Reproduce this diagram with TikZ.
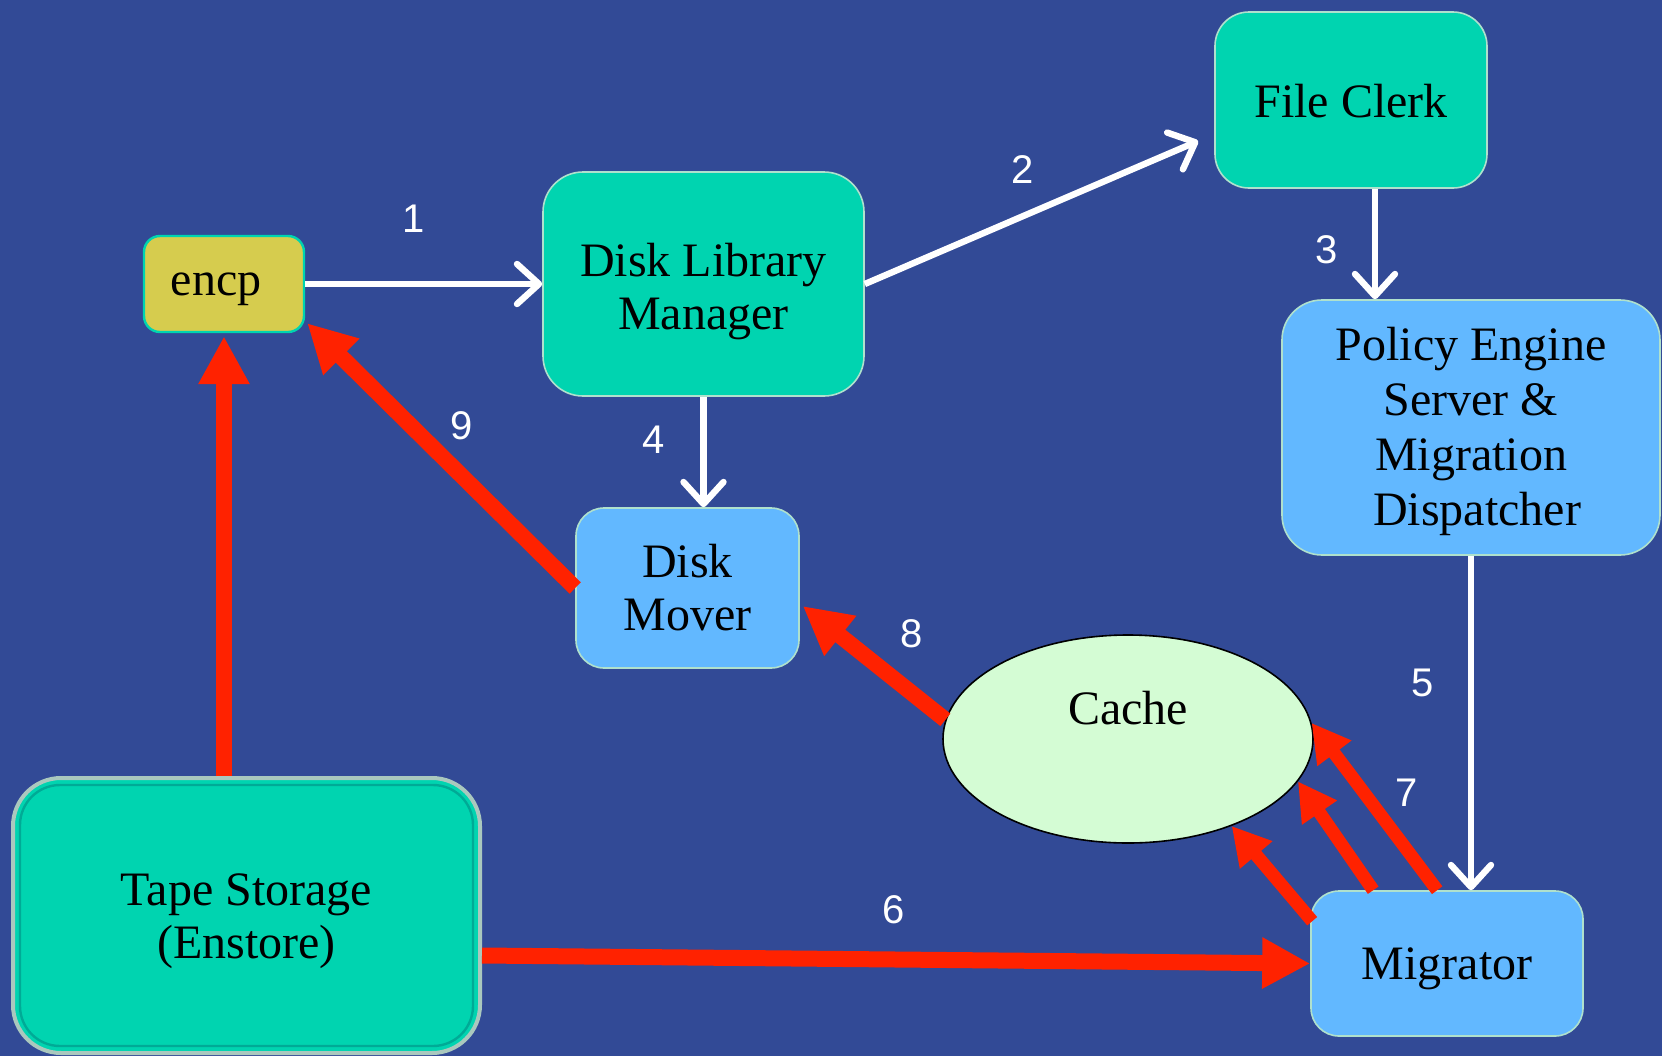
\documentclass[tikz,border=0pt]{standalone}
\usepackage{fontspec}
\setmainfont{Liberation Serif}
\newfontfamily\numfont{Liberation Sans}
\usetikzlibrary{arrows.meta,calc,shapes.geometric}
\definecolor{bgblue}{RGB}{50,74,150}
\definecolor{tealfill}{RGB}{0,212,176}
\definecolor{lbluefill}{RGB}{98,184,255}
\definecolor{cachefill}{RGB}{212,252,212}
\definecolor{encpfill}{RGB}{214,204,78}
\definecolor{redarr}{RGB}{255,34,0}
\definecolor{edgec}{RGB}{175,225,205}
\definecolor{tapeedge}{RGB}{170,200,190}
\definecolor{tapeinner}{RGB}{0,170,150}
\newcommand{\lowtxt}[2]{\raisebox{-#1}[\height][\depth]{#2}}
\begin{document}
\begin{tikzpicture}[x=0.5pt,y=-0.5pt,
  procbox/.style={rectangle,draw=edgec,line width=0.8pt,align=center,
    font=\fontsize{24}{26.5}\selectfont,inner sep=0pt},
  greenbox/.style={procbox,fill=tealfill},
  bluebox/.style={procbox,fill=lbluefill},
  warr/.style={white,line width=3.2pt,-{Straight Barb[length=11pt,width=20pt,round]}},
  rarr/.style={redarr,line width=8pt,-{Triangle[length=24pt,width=24pt]}},
  rarrs/.style={redarr,line width=6.5pt,-{Triangle[length=19pt,width=20pt]}},
  num/.style={text=white,font=\numfont\fontsize{20}{24}\selectfont}]
\useasboundingbox (0,0) rectangle (1662,1056);
\fill[bgblue] (0,0) rectangle (1662,1056);

% nodes
\node[greenbox,fill=encpfill,draw=tealfill,line width=1.2pt,rounded corners=8pt,
  minimum width=80pt,minimum height=48pt] (encp) at (224,284) {\lowtxt{2.5pt}{encp}\hspace*{8pt}};
\node[greenbox,rounded corners=20pt,minimum width=160.5pt,minimum height=112pt]
  (dlm) at (703.5,284) {\lowtxt{3.7pt}{Disk Library}\\\lowtxt{3.7pt}{Manager}};
\node[greenbox,rounded corners=17pt,minimum width=136pt,minimum height=88pt]
  (fc) at (1351,100) {\lowtxt{0.5pt}{File Clerk}};
\node[bluebox,rounded corners=20pt,minimum width=189pt,minimum height=127.5pt,
  font=\fontsize{24}{27.5}\selectfont]
  (pol) at (1471,427.5) {\lowtxt{2pt}{Policy Engine}\\\lowtxt{2pt}{Server \&}\\\lowtxt{2pt}{Migration}\\\lowtxt{2pt}{\ Dispatcher}};
\node[bluebox,rounded corners=14pt,minimum width=111.5pt,minimum height=80pt]
  (dm) at (687.5,588) {Disk\\Mover};
\node[bluebox,rounded corners=14pt,minimum width=136pt,minimum height=72.5pt]
  (mig) at (1447,963.5) {\lowtxt{2.5pt}{Migrator}};
\node[ellipse,draw=black,line width=0.8pt,fill=cachefill,inner sep=0pt,
  minimum width=185pt,minimum height=104pt] (cache) at (1128,739) {};
\node[font=\fontsize{24}{26.5}\selectfont] (cachetxt) at (1128,708) {Cache};
\node[greenbox,draw=tapeedge,line width=2pt,rounded corners=24pt,
  minimum width=233.5pt,minimum height=137.5pt] (tape) at (246.5,915.5)
  {\lowtxt{3pt}{Tape Storage}\\\lowtxt{3pt}{(Enstore)}};
\draw[tapeinner,line width=1.2pt,rounded corners=20pt]
  ($(tape.north west)+(9,9)$) rectangle ($(tape.south east)+(-9,-9)$);

% white arrows
\coordinate (fcout) at ($(fc.south)+(24,0)$);
\coordinate (polin) at (fcout |- pol.north);
\draw[warr] (encp.east) -- (dlm.west);
\draw[warr] (dlm.east) -- ($(fc.west)+(-16,41)$);
\draw[warr] (fcout) -- (polin);
\draw[warr] (dlm.south) -- (dlm.south |- dm.north);
\draw[warr] (pol.south) -- (pol.south |- mig.north);

% red arrows
\draw[rarr] (encp.south |- tape.north) -- ($(encp.south)+(0,3)$);
\draw[rarr] ($(tape.east)+(0,40)$) -- (mig.west);
\draw[rarr] (dm.west) -- ($(encp.south east)+(2,-10)$);
\draw[rarr] (cache.174) -- ($(dm.east)+(3,18)$);
\draw[rarrs] ($(mig.north west)+(127,0)$) -- (cache.5);
\draw[rarrs] ($(mig.north west)+(63,0)$) -- (cache.-14);
\draw[rarrs] ($(mig.north west)+(2,31)$) -- (cache.-40);

% labels
\node[num] (l1) at (414,219) {1};
\node[num] (l2) at (1023,170) {2};
\node[num] (l3) at (1327,250) {3};
\node[num] (l4) at (654,440) {4};
\node[num] (l5) at (1423,683) {5};
\node[num] (l6) at (894,910) {6};
\node[num] (l7) at (1407,793) {7};
\node[num] (l8) at (912,634) {8};
\node[num] (l9) at (462,426) {9};
\end{tikzpicture}
\end{document}
